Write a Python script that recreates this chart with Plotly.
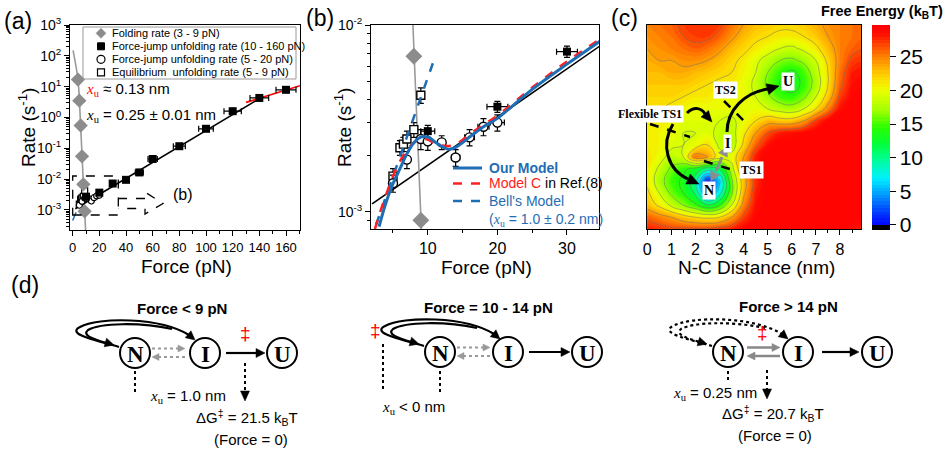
import plotly.graph_objects as go

W, H = 947, 452
def X(px): return px / W
def Y(py): return 1 - py / H

SANS = "Liberation Sans"
SERIF = "Liberation Serif"
BLUE = "#1f6db5"
RED = "#ff2020"

# ---------------- data: panels (a) and (b) ----------------
fold_force = [4, 5, 6, 7, 8, 9]
fold_rate = [17, 3.5, 0.55, 0.055, 0.0068, 0.0009]
fold_fit_force = [0.3, 2.0, 4.0, 6.0, 8.0, 9.8]
fold_fit_rate = [150, 60, 17, 0.5, 0.0075, 0.00018]

fj_force = [10, 20, 30, 40, 50, 60, 80, 100, 120, 140, 160]
fj_rate = [0.0027, 0.00365, 0.0072, 0.0095, 0.0165, 0.045, 0.117, 0.43, 1.6, 4.3, 7.9]
fj_force_err = [1.0, 1.5, 1.5, 2.5, 3.0, 3.5, 4.5, 5.5, 6.5, 7.0, 7.5]
fj_rate_err = [0.0002, 0.00025, 0.0005, 0.0008, 0.0015, 0.004, 0.012, 0.04, 0.15, 0.4, 0.7]

fjc_force = [5, 7, 9, 10, 12, 14, 16, 18, 20]
fjc_rate = [0.00142, 0.0019, 0.00245, 0.00238, 0.00235, 0.00195, 0.0025, 0.00285, 0.003]
fjc_rate_err = [0.00015, 0.0002, 0.0003, 0.00025, 0.0002, 0.0002, 0.00025, 0.0003, 0.0003]
fjc_force_err = [0.3, 0.3, 0.4, 0.4, 0.5, 0.6, 0.7, 0.8, 1.0]

eq_force = [5, 6, 6.5, 7, 8, 9]
eq_rate = [0.00155, 0.0022, 0.0023, 0.00245, 0.00275, 0.0042]
eq_rate_err = [0.00015, 0.0002, 0.0002, 0.00025, 0.00025, 0.0004]

bell_fit_force = [2.0, 143.0]
bell_fit_rate = [0.0011, 4.86]
high_fit_force = [130, 170.5]
high_fit_rate = [3.09, 10.7]

model_force = [3, 4, 5, 6, 7, 8, 9, 10, 11, 12, 13, 14, 16, 18, 20, 25, 30, 35]
our_model_rate = [8.32e-4, 1.12e-3, 1.41e-3, 1.70e-3, 2.04e-3, 2.34e-3, 2.51e-3, 2.51e-3, 2.37e-3,
                  2.24e-3, 2.16e-3, 2.21e-3, 2.51e-3, 2.85e-3, 3.16e-3, 4.52e-3, 6.17e-3, 8.32e-3]
modelc_force = [2.4, 3, 4, 5, 6, 7, 8, 9, 10, 11, 12, 13, 14, 16, 18, 20, 25, 30, 35]
modelc_rate = [8.07e-4, 9.55e-4, 1.23e-3, 1.55e-3, 1.86e-3, 2.14e-3, 2.34e-3, 2.45e-3, 2.43e-3, 2.32e-3,
               2.26e-3, 2.25e-3, 2.29e-3, 2.60e-3, 2.92e-3, 3.27e-3, 4.62e-3, 6.38e-3, 8.51e-3]
bell_force = [0.0, 10.8]
bell_rate = [4.55e-4, 6.35e-3]

# ---------------- data: panel (c) free-energy map ----------------
dist_x = [0, 0.5, 1, 1.5, 2, 2.5, 3, 3.5, 4, 4.5, 5, 5.5, 6, 6.5, 7, 7.5, 8, 8.5, 9]
dist_y_top_down = [8.5, 8, 7.5, 7, 6.5, 6, 5.5, 5, 4.5, 4, 3.5, 3, 2.5, 2, 1.5, 1, 0.5, 0]
energy_rows_top_down = [
    [25.0, 25.5, 26.0, 27.0, 27.5, 27.5, 27.0, 25.5, 24.0, 23.0, 22.5, 22.0, 22.0, 22.5, 23.5, 24.5, 25.0, 25.5, 26.0],
    [24.5, 25.0, 25.5, 26.5, 27.0, 27.0, 26.0, 24.5, 23.0, 22.0, 21.5, 21.0, 21.0, 21.5, 22.5, 24.0, 25.0, 25.5, 26.0],
    [24.0, 24.5, 25.0, 25.5, 26.0, 25.5, 24.5, 23.0, 22.0, 21.0, 20.0, 19.0, 18.5, 19.5, 21.0, 23.0, 25.0, 26.0, 26.5],
    [23.5, 24.0, 24.0, 24.5, 24.5, 24.0, 23.0, 22.0, 21.0, 19.5, 18.0, 16.5, 16.0, 17.0, 19.0, 22.0, 25.0, 27.0, 27.5],
    [23.0, 23.0, 23.5, 23.5, 23.0, 22.5, 22.0, 21.5, 20.5, 19.0, 16.5, 14.5, 13.5, 15.0, 18.0, 21.5, 25.5, 28.0, 28.5],
    [22.5, 22.5, 22.5, 22.5, 22.0, 21.5, 21.0, 21.0, 20.0, 18.5, 16.0, 14.0, 13.0, 14.5, 17.5, 21.5, 26.0, 28.5, 29.0],
    [22.0, 22.0, 22.0, 21.5, 21.0, 21.0, 20.5, 20.5, 20.0, 19.0, 17.0, 15.0, 14.5, 16.0, 19.0, 22.5, 27.0, 29.0, 29.5],
    [21.5, 21.5, 21.0, 20.5, 20.0, 20.0, 20.0, 20.0, 20.0, 20.0, 19.0, 18.0, 17.5, 19.0, 21.5, 25.0, 28.5, 29.5, 29.5],
    [21.0, 21.0, 20.5, 19.5, 19.5, 19.5, 19.0, 18.5, 20.0, 21.5, 23.0, 22.5, 22.5, 24.0, 27.0, 29.0, 29.5, 29.5, 29.5],
    [21.0, 20.5, 20.0, 19.0, 19.0, 19.5, 18.5, 18.0, 21.0, 24.0, 26.5, 28.0, 28.5, 29.0, 29.5, 29.5, 29.5, 29.5, 29.5],
    [21.0, 20.5, 19.5, 19.0, 20.0, 21.5, 18.5, 17.5, 22.0, 26.0, 28.5, 29.5, 29.5, 29.5, 29.5, 29.5, 29.5, 29.5, 29.5],
    [21.5, 20.0, 18.0, 19.0, 25.5, 24.0, 20.0, 20.0, 24.0, 28.0, 29.5, 29.5, 29.5, 29.5, 29.5, 29.5, 29.5, 29.5, 29.5],
    [21.0, 18.5, 16.0, 14.5, 13.0, 10.0, 11.5, 18.0, 24.5, 28.0, 29.5, 29.5, 29.5, 29.5, 29.5, 29.5, 29.5, 29.5, 29.5],
    [21.0, 17.5, 15.0, 13.5, 10.0, 0.5, 6.0, 16.0, 23.0, 27.5, 29.5, 29.5, 29.5, 29.5, 29.5, 29.5, 29.5, 29.5, 29.5],
    [22.0, 19.0, 16.0, 14.0, 11.0, 3.0, 8.0, 16.0, 23.5, 28.0, 29.5, 29.5, 29.5, 29.5, 29.5, 29.5, 29.5, 29.5, 29.5],
    [23.0, 21.0, 18.5, 16.5, 14.5, 12.0, 14.0, 19.0, 25.0, 28.5, 29.5, 29.5, 29.5, 29.5, 29.5, 29.5, 29.5, 29.5, 29.5],
    [26.0, 25.0, 24.0, 22.5, 21.5, 21.0, 21.5, 24.0, 27.0, 29.0, 29.5, 29.5, 29.5, 29.5, 29.5, 29.5, 29.5, 29.5, 29.0],
    [28.0, 27.5, 27.0, 27.0, 27.0, 27.0, 27.5, 28.0, 29.0, 29.5, 29.5, 29.5, 29.5, 29.5, 29.5, 29.5, 29.5, 28.5, 28.0],
]
dist_y = dist_y_top_down[::-1]
energy = energy_rows_top_down[::-1]

energy_ticks = [0, 5, 10, 15, 20, 25]
rate_ticks_a = [1e-3, 1e-2, 1e-1, 1, 10, 100, 1000]
rate_text_a = ["10<sup>-3</sup>", "10<sup>-2</sup>", "10<sup>-1</sup>", "10<sup>0</sup>",
               "10<sup>1</sup>", "10<sup>2</sup>", "10<sup>3</sup>"]
rate_ticks_b = [1e-3, 1e-2]
rate_text_b = ["10<sup>-3</sup>", "10<sup>-2</sup>"]

fig = go.Figure()

# ---------------- panel (a) ----------------
fig.add_trace(go.Scatter(x=fold_fit_force, y=fold_fit_rate, mode="lines",
                         line=dict(color="#9a9a9a", width=1.6, shape="spline"), xaxis="x", yaxis="y"))
fig.add_trace(go.Scatter(x=bell_force, y=bell_rate, mode="lines",
                         line=dict(color=BLUE, width=1.5, dash="dash"), xaxis="x", yaxis="y"))
fig.add_trace(go.Scatter(x=bell_fit_force, y=bell_fit_rate, mode="lines",
                         line=dict(color="black", width=1.6), xaxis="x", yaxis="y"))
fig.add_trace(go.Scatter(x=high_fit_force, y=high_fit_rate, mode="lines",
                         line=dict(color="red", width=1.6), xaxis="x", yaxis="y"))
fig.add_trace(go.Scatter(x=eq_force, y=eq_rate, mode="markers",
                         marker=dict(symbol="square", size=6, color="white", line=dict(color="black", width=1.2)),
                         xaxis="x", yaxis="y"))
fig.add_trace(go.Scatter(x=fjc_force, y=fjc_rate, mode="markers",
                         marker=dict(symbol="circle", size=6, color="white", line=dict(color="black", width=1.2)),
                         xaxis="x", yaxis="y"))
fig.add_trace(go.Scatter(x=fj_force, y=fj_rate, mode="markers",
                         error_x=dict(type="data", array=fj_force_err, color="black", thickness=1.2, width=3),
                         error_y=dict(type="data", array=fj_rate_err, color="black", thickness=1.2, width=3),
                         marker=dict(symbol="square", size=8, color="black"), xaxis="x", yaxis="y"))
fig.add_trace(go.Scatter(x=fold_force, y=fold_rate, mode="markers",
                         marker=dict(symbol="diamond", size=11, color="#8c8c8c"), xaxis="x", yaxis="y"))

# ---------------- panel (b) ----------------
fig.add_trace(go.Scatter(x=bell_fit_force, y=bell_fit_rate, mode="lines",
                         line=dict(color="black", width=1.6), xaxis="x2", yaxis="y2"))
fig.add_trace(go.Scatter(x=fold_fit_force, y=fold_fit_rate, mode="lines",
                         line=dict(color="#9a9a9a", width=1.6, shape="spline"), xaxis="x2", yaxis="y2"))
fig.add_trace(go.Scatter(x=fold_force, y=fold_rate, mode="markers",
                         marker=dict(symbol="diamond", size=13, color="#8c8c8c"), xaxis="x2", yaxis="y2"))
fig.add_trace(go.Scatter(x=eq_force, y=eq_rate, mode="markers",
                         error_y=dict(type="data", array=eq_rate_err, color="black", thickness=1.2, width=3),
                         marker=dict(symbol="square", size=8, color="white", line=dict(color="black", width=1.4)),
                         xaxis="x2", yaxis="y2"))
fig.add_trace(go.Scatter(x=fjc_force, y=fjc_rate, mode="markers",
                         error_x=dict(type="data", array=fjc_force_err, color="black", thickness=1.2, width=3),
                         error_y=dict(type="data", array=fjc_rate_err, color="black", thickness=1.2, width=3),
                         marker=dict(symbol="circle", size=9, color="white", line=dict(color="black", width=1.4)),
                         xaxis="x2", yaxis="y2"))
fig.add_trace(go.Scatter(x=fj_force, y=fj_rate, mode="markers",
                         error_x=dict(type="data", array=fj_force_err, color="black", thickness=1.2, width=3),
                         error_y=dict(type="data", array=fj_rate_err, color="black", thickness=1.2, width=3),
                         marker=dict(symbol="square", size=8, color="black"), xaxis="x2", yaxis="y2"))
fig.add_trace(go.Scatter(x=bell_force, y=bell_rate, mode="lines",
                         line=dict(color=BLUE, width=2.5, dash="dash"), xaxis="x2", yaxis="y2"))
fig.add_trace(go.Scatter(x=modelc_force, y=modelc_rate, mode="lines",
                         line=dict(color=RED, width=2.5, dash="dash", shape="spline"), xaxis="x2", yaxis="y2"))
fig.add_trace(go.Scatter(x=model_force, y=our_model_rate, mode="lines",
                         line=dict(color=BLUE, width=3, shape="spline"), xaxis="x2", yaxis="y2"))

# ---------------- panel (c) ----------------
cs = [
    [0.0, "#000000"], [0.0178, "#000000"], [0.0211, "#0000ff"], [0.087, "#003cff"],
    [0.186, "#00aaff"], [0.252, "#00f0ff"], [0.351, "#00ff8c"], [0.417, "#00ff3c"],
    [0.499, "#28ff00"], [0.581, "#a0ff00"], [0.680, "#ebff00"], [0.746, "#ffd700"],
    [0.845, "#ff8200"], [0.911, "#ff3c00"], [0.960, "#ff0a00"], [1.0, "#ff0000"],
]
fig.add_trace(go.Contour(
    x=dist_x, y=dist_y, z=energy, zmin=-0.64, zmax=29.7, colorscale=cs,
    contours=dict(start=-0.5, end=29.5, size=0.5, coloring="fill", showlines=False),
    line=dict(width=0, smoothing=1.3), xaxis="x3", yaxis="y3",
    colorbar=dict(x=X(871.7), xanchor="left", y=Y(127.5), yanchor="middle",
                  len=205, lenmode="pixels", ypad=0, xpad=0, thickness=18, thicknessmode="pixels",
                  tickvals=energy_ticks, ticks="outside", ticklen=6, tickcolor="black",
                  tickfont=dict(size=21, family=SANS, color="black"), outlinewidth=0),
))
fig.add_trace(go.Contour(
    x=dist_x, y=dist_y, z=energy, showscale=False,
    contours=dict(start=1.5, end=26.5, size=2.5, coloring="none"),
    line=dict(color="#6e6e6e", width=0.5, smoothing=1.3), xaxis="x3", yaxis="y3",
))

# ---------------- axes ----------------
ax_common = dict(showline=True, linecolor="black", linewidth=1, mirror=True, showgrid=False,
                 zeroline=False, ticks="outside", tickcolor="black", ticklen=5)

def minor_log(lo, hi):
    vals = []
    for d in range(lo, hi):
        for k in range(2, 10):
            vals.append(k * 10 ** d)
    return vals

fig.update_layout(
    width=W, height=H, margin=dict(l=0, r=0, t=0, b=0, pad=0, autoexpand=False),
    paper_bgcolor="white", plot_bgcolor="white", showlegend=False,
    font=dict(family=SANS, color="black"),
    xaxis=dict(domain=[X(70), X(300)], range=[-2.0, 170.5], anchor="y",
               tickvals=[0, 20, 40, 60, 80, 100, 120, 140, 160], tickfont=dict(size=13),
               minor=dict(dtick=10, ticks="outside", ticklen=3, tickcolor="black"), **ax_common),
    yaxis=dict(domain=[Y(230), Y(25)], type="log", range=[-3.65, 3.0], anchor="x",
               tickvals=rate_ticks_a, ticktext=rate_text_a, tickfont=dict(size=14),
               minor=dict(tickvals=minor_log(-4, 3), ticks="outside", ticklen=3, tickcolor="black"),
               **ax_common),
    xaxis2=dict(domain=[X(371), X(599)], range=[1.84, 34.6], anchor="y2",
                tickvals=[10, 20, 30], tickfont=dict(size=16),
                minor=dict(dtick=5, ticks="outside", ticklen=3, tickcolor="black"), **ax_common),
    yaxis2=dict(domain=[Y(229), Y(25)], type="log", range=[-3.093, -2.0], anchor="x2",
                tickvals=rate_ticks_b, ticktext=rate_text_b, tickfont=dict(size=14),
                minor=dict(tickvals=minor_log(-4, -2), ticks="outside", ticklen=3, tickcolor="black"),
                **ax_common),
    xaxis3=dict(domain=[X(647.3), X(860.7)], range=[0, 8.86], anchor="y3",
                tickvals=list(range(0, 9)), tickfont=dict(size=16),
                minor=dict(dtick=0.5, ticks="outside", ticklen=3, tickcolor="black"), **ax_common),
    yaxis3=dict(domain=[Y(229.3), Y(24.7)], range=[0, 8.49], anchor="x3", showticklabels=False,
                showline=True, linecolor="black", linewidth=1, mirror=True, showgrid=False,
                zeroline=False, ticks=""),
)

# ---------------- drawing helpers ----------------
shapes = []
anns = []

def conv(s):
    toks = s.replace(",", " ").split()
    out, pend = [], None
    for t in toks:
        if t[0].isalpha():
            out.append(t)
        else:
            v = float(t)
            if pend is None:
                pend = X(v)
            else:
                out.append(f"{pend:.5f},{Y(v):.5f}")
                pend = None
    return " ".join(out)

def path(s, color="black", width=2, dash="solid", fill=None):
    d = dict(type="path", xref="paper", yref="paper", path=conv(s),
             line=dict(color=color, width=width, dash=dash))
    if fill:
        d["fillcolor"] = fill
    shapes.append(d)

def seg(x0, y0, x1, y1, color="black", width=2, dash="solid"):
    shapes.append(dict(type="line", xref="paper", yref="paper", x0=X(x0), y0=Y(y0), x1=X(x1), y1=Y(y1),
                       line=dict(color=color, width=width, dash=dash)))

def head(tx, ty, fx, fy, color="black", L=9, w=4.5):
    dx, dy = tx - fx, ty - fy
    n = (dx * dx + dy * dy) ** 0.5
    dx, dy = dx / n, dy / n
    bx, by = tx - L * dx, ty - L * dy
    px, py = -dy, dx
    s = f"M {tx},{ty} L {bx + w * px},{by + w * py} L {bx - w * px},{by - w * py} Z"
    shapes.append(dict(type="path", xref="paper", yref="paper", path=conv(s),
                       fillcolor=color, line=dict(color=color, width=0.5)))

def arrow(x0, y0, x1, y1, color="black", width=2, dash="solid", L=9, w=4.5):
    dx, dy = x1 - x0, y1 - y0
    n = (dx * dx + dy * dy) ** 0.5
    seg(x0, y0, x1 - dx / n * (L - 1), y1 - dy / n * (L - 1), color, width, dash)
    head(x1, y1, x0, y0, color, L, w)

def circ(cx, cy, r=15):
    shapes.append(dict(type="circle", xref="paper", yref="paper", x0=X(cx - r), x1=X(cx + r),
                       y0=Y(cy + r), y1=Y(cy - r), line=dict(color="black", width=2)))

def rect(x0, y0, x1, y1, color="black", width=1, dash="solid", fill=None):
    d = dict(type="rect", xref="paper", yref="paper", x0=X(x0), x1=X(x1), y0=Y(y1), y1=Y(y0),
             line=dict(color=color, width=width, dash=dash))
    if fill:
        d["fillcolor"] = fill
    shapes.append(d)

def text(x, y, s, size=15, color="black", family=SANS, xanchor="center", angle=0, bg=None):
    d = dict(x=X(x), y=Y(y), xref="paper", yref="paper", text=s, showarrow=False,
             font=dict(size=size, color=color, family=family), xanchor=xanchor, yanchor="middle",
             textangle=angle)
    if bg:
        d["bgcolor"] = bg
        d["borderpad"] = 1
    anns.append(d)

XU = f'<span style="font-family:{SERIF}"><i>x</i><sub>u</sub></span>'

# ---------------- panel labels & axis titles ----------------
text(18, 21, "(a)", 23)
text(320, 18, "(b)", 23)
text(624, 18, "(c)", 23)
text(25, 285, "(d)", 23)
text(27, 128, "Rate (s<sup>-1</sup>)", 19, angle=-90)
text(343, 128, "Rate (s<sup>-1</sup>)", 19, angle=-90)
text(186, 266, "Force (pN)", 19)
text(487, 267, "Force (pN)", 19)
text(756, 267, "N-C Distance (nm)", 19)
text(945, 12, "<b>Free Energy (k<sub>B</sub>T)</b>", 14.5, xanchor="right")

# ---------------- panel (a) legend & notes ----------------
rect(83, 27, 296, 79, color="#9a9a9a", width=1)
leg_rows = [33.3, 46.3, 59.3, 72.3]
leg_text = ["Folding rate (3 - 9 pN)", "Force-jump unfolding rate (10 - 160 pN)",
            "Force-jump unfolding rate (5 - 20 pN)", "Equilibrium  unfolding rate (5 - 9 pN)"]
path(f"M 101,{leg_rows[0]-5} L 106,{leg_rows[0]} L 101,{leg_rows[0]+5} L 96,{leg_rows[0]} Z",
     color="#8c8c8c", width=0.5, fill="#8c8c8c")
rect(97.5, leg_rows[1] - 3.5, 104.5, leg_rows[1] + 3.5, color="black", width=1, fill="black")
shapes.append(dict(type="circle", xref="paper", yref="paper", x0=X(97), x1=X(105),
                   y0=Y(leg_rows[2] + 4), y1=Y(leg_rows[2] - 4), line=dict(color="black", width=1.2)))
rect(97.5, leg_rows[3] - 3.5, 104.5, leg_rows[3] + 3.5, color="black", width=1.2)
for yy, tt in zip(leg_rows, leg_text):
    text(110, yy, tt, 11, xanchor="left")

text(84, 90, f'<span style="color:red;font-family:{SERIF}"><i>x</i><sub>u</sub></span> ≈ 0.13 nm', 15, xanchor="left")
text(84, 115, f"{XU} = 0.25 ± 0.01 nm", 15, xanchor="left")

rect(72.7, 176, 118.3, 215, width=1.3, dash="dash")
path("M 118,198.5 L 145,198.5 L 145,192 L 163,203.5 L 145,214 L 145,208.5 L 118,208.5",
     width=1.3, dash="dash")
text(183, 195, "(b)", 16)

# ---------------- panel (b) legend ----------------
seg(453, 168, 482, 168, color=BLUE, width=3)
text(487, 168, "<b>Our Model</b>", 14, color=BLUE, xanchor="left")
seg(453, 183.5, 482, 183.5, color=RED, width=2.5, dash="dash")
text(487, 183.5, f'<span style="color:{RED}">Model C</span> in Ref.(8)', 14, xanchor="left")
seg(453, 201, 482, 201, color=BLUE, width=2.5, dash="dash")
text(487, 201, "Bell's Model", 14, color=BLUE, xanchor="left")
text(487, 220, f"({XU} = 1.0 ± 0.2 nm)", 14, color=BLUE, xanchor="left")

# ---------------- panel (c) annotations ----------------
seg(724, 101, 745, 122, width=2.5, dash="dash")
seg(650, 124, 690, 137, width=2.5, dash="dash")
seg(704, 161, 736, 171, width=2.5, dash="dash")
path("M 727,132 C 727,110 745,92 768,89", width=3)
head(779, 86, 768, 89, L=12, w=5.5)
path("M 687,113 C 694,106 702,108 705,114", width=3)
head(712, 122, 705, 114, L=11, w=5)
path("M 673,124 C 660,145 668,170 688,179", width=3)
head(699, 184, 688, 179, L=12, w=5.5)
seg(716, 171, 722, 157, color="#8c8c8c", width=3)
head(727, 147, 722, 157, color="#8c8c8c", L=9, w=5)
head(711, 181, 716, 171, color="#8c8c8c", L=9, w=5)
cfont = SERIF
text(788, 82, "<b>U</b>", 14, family=cfont, bg="white")
text(725, 90, "<b>TS2</b>", 12, family=cfont, bg="white")
text(650, 114, "<b>Flexible TS1</b>", 12, family=cfont, bg="white")
text(727, 143, "<b>I</b>", 14, family=cfont, bg="white")
text(751, 170, "<b>TS1</b>", 12, family=cfont, bg="white")
text(709, 190, "<b>N</b>", 14, family=cfont, bg="white")

# ---------------- panel (d) schemes ----------------
def loops(dx, dy, dash="solid", width=2.2):
    def sh(s):
        toks = s.split()
        out = []
        for t in toks:
            if t[0].isalpha():
                out.append(t)
            else:
                a, b = t.split(",")
                out.append(f"{float(a) + dx},{float(b) + dy}")
        return " ".join(out)
    path(sh("M 119,347 C 95,340 66,334 80,327 C 98,317 160,317 189,335"), width=width, dash=dash)
    head(195 + dx, 340 + dy, 189 + dx, 335 + dy, L=9, w=4.5)
    path(sh("M 172,329 C 140,322 100,323 88,330 C 82,335 92,339 107,343"), width=width, dash=dash)
    head(114 + dx, 345 + dy, 107 + dx, 343 + dy, L=9, w=4.5)

def nodes(n_x, i_x, u_x, cy):
    for cx, lab in ((n_x, "N"), (i_x, "I"), (u_x, "U")):
        circ(cx, cy)
        text(cx, cy + 1, f"<b>{lab}</b>", 23, family=SERIF)

# left scheme
text(182, 308, "<b>Force &lt; 9 pN</b>", 15)
loops(0, 0)
nodes(135, 205, 282, 353)
arrow(152, 348.5, 185, 348.5, color="#999999", width=2, dash="dot", L=7, w=3.5)
arrow(185, 357, 152, 357, color="#999999", width=2, dash="dot", L=7, w=3.5)
arrow(226, 353, 265, 353, width=2.2)
text(245, 333, "‡", 19, color="red")
seg(135, 371, 135, 392, width=2, dash="dot")
seg(245, 363, 245, 392, width=2, dash="dot")
head(245, 401, 245, 392, L=10, w=4.5)
text(188, 396, f"{XU} = 1.0 nm", 15)
text(247, 417, "ΔG<sup>‡</sup> = 21.5 k<sub>B</sub>T", 15)
text(251, 439, "(Force = 0)", 15)

# middle scheme
text(488, 307, "<b>Force = 10 - 14 pN</b>", 15)
loops(305, -1)
nodes(440, 508, 587, 352)
arrow(457, 347.5, 490, 347.5, color="#999999", width=2, dash="dot", L=7, w=3.5)
arrow(490, 356, 457, 356, color="#999999", width=2, dash="dot", L=7, w=3.5)
arrow(529, 352, 570, 352, width=2.2)
text(375, 330, "‡", 19, color="red")
seg(383, 344, 383, 392, width=2, dash="dot")
seg(440, 371, 440, 395, width=2, dash="dot")
text(413, 407, f"{XU} &lt; 0 nm", 15)

# right scheme
text(788, 306, "<b>Force &gt; 14 pN</b>", 15)
loops(593, -1, dash="dot")
nodes(728, 798, 877, 352)
arrow(747, 347.5, 780, 347.5, color="#888888", width=2.5, L=8, w=4)
arrow(780, 356, 747, 356, color="#888888", width=2.5, L=8, w=4)
arrow(822, 352, 859, 352, width=2.2)
text(762, 332, "‡", 19, color="red")
seg(728, 371, 728, 382, width=2, dash="dot")
seg(767, 370, 767, 390, width=2, dash="dot")
head(767, 399, 767, 390, L=10, w=4.5)
text(715, 393, f"{XU} = 0.25 nm", 15)
text(773, 413, "ΔG<sup>‡</sup> = 20.7 k<sub>B</sub>T", 15)
text(775, 435, "(Force = 0)", 15)

fig.update_layout(shapes=shapes, annotations=anns)
fig.write_html("out.html", config={"displayModeBar": False},
               post_script="document.body.style.margin='0';document.body.style.overflow='hidden';")
